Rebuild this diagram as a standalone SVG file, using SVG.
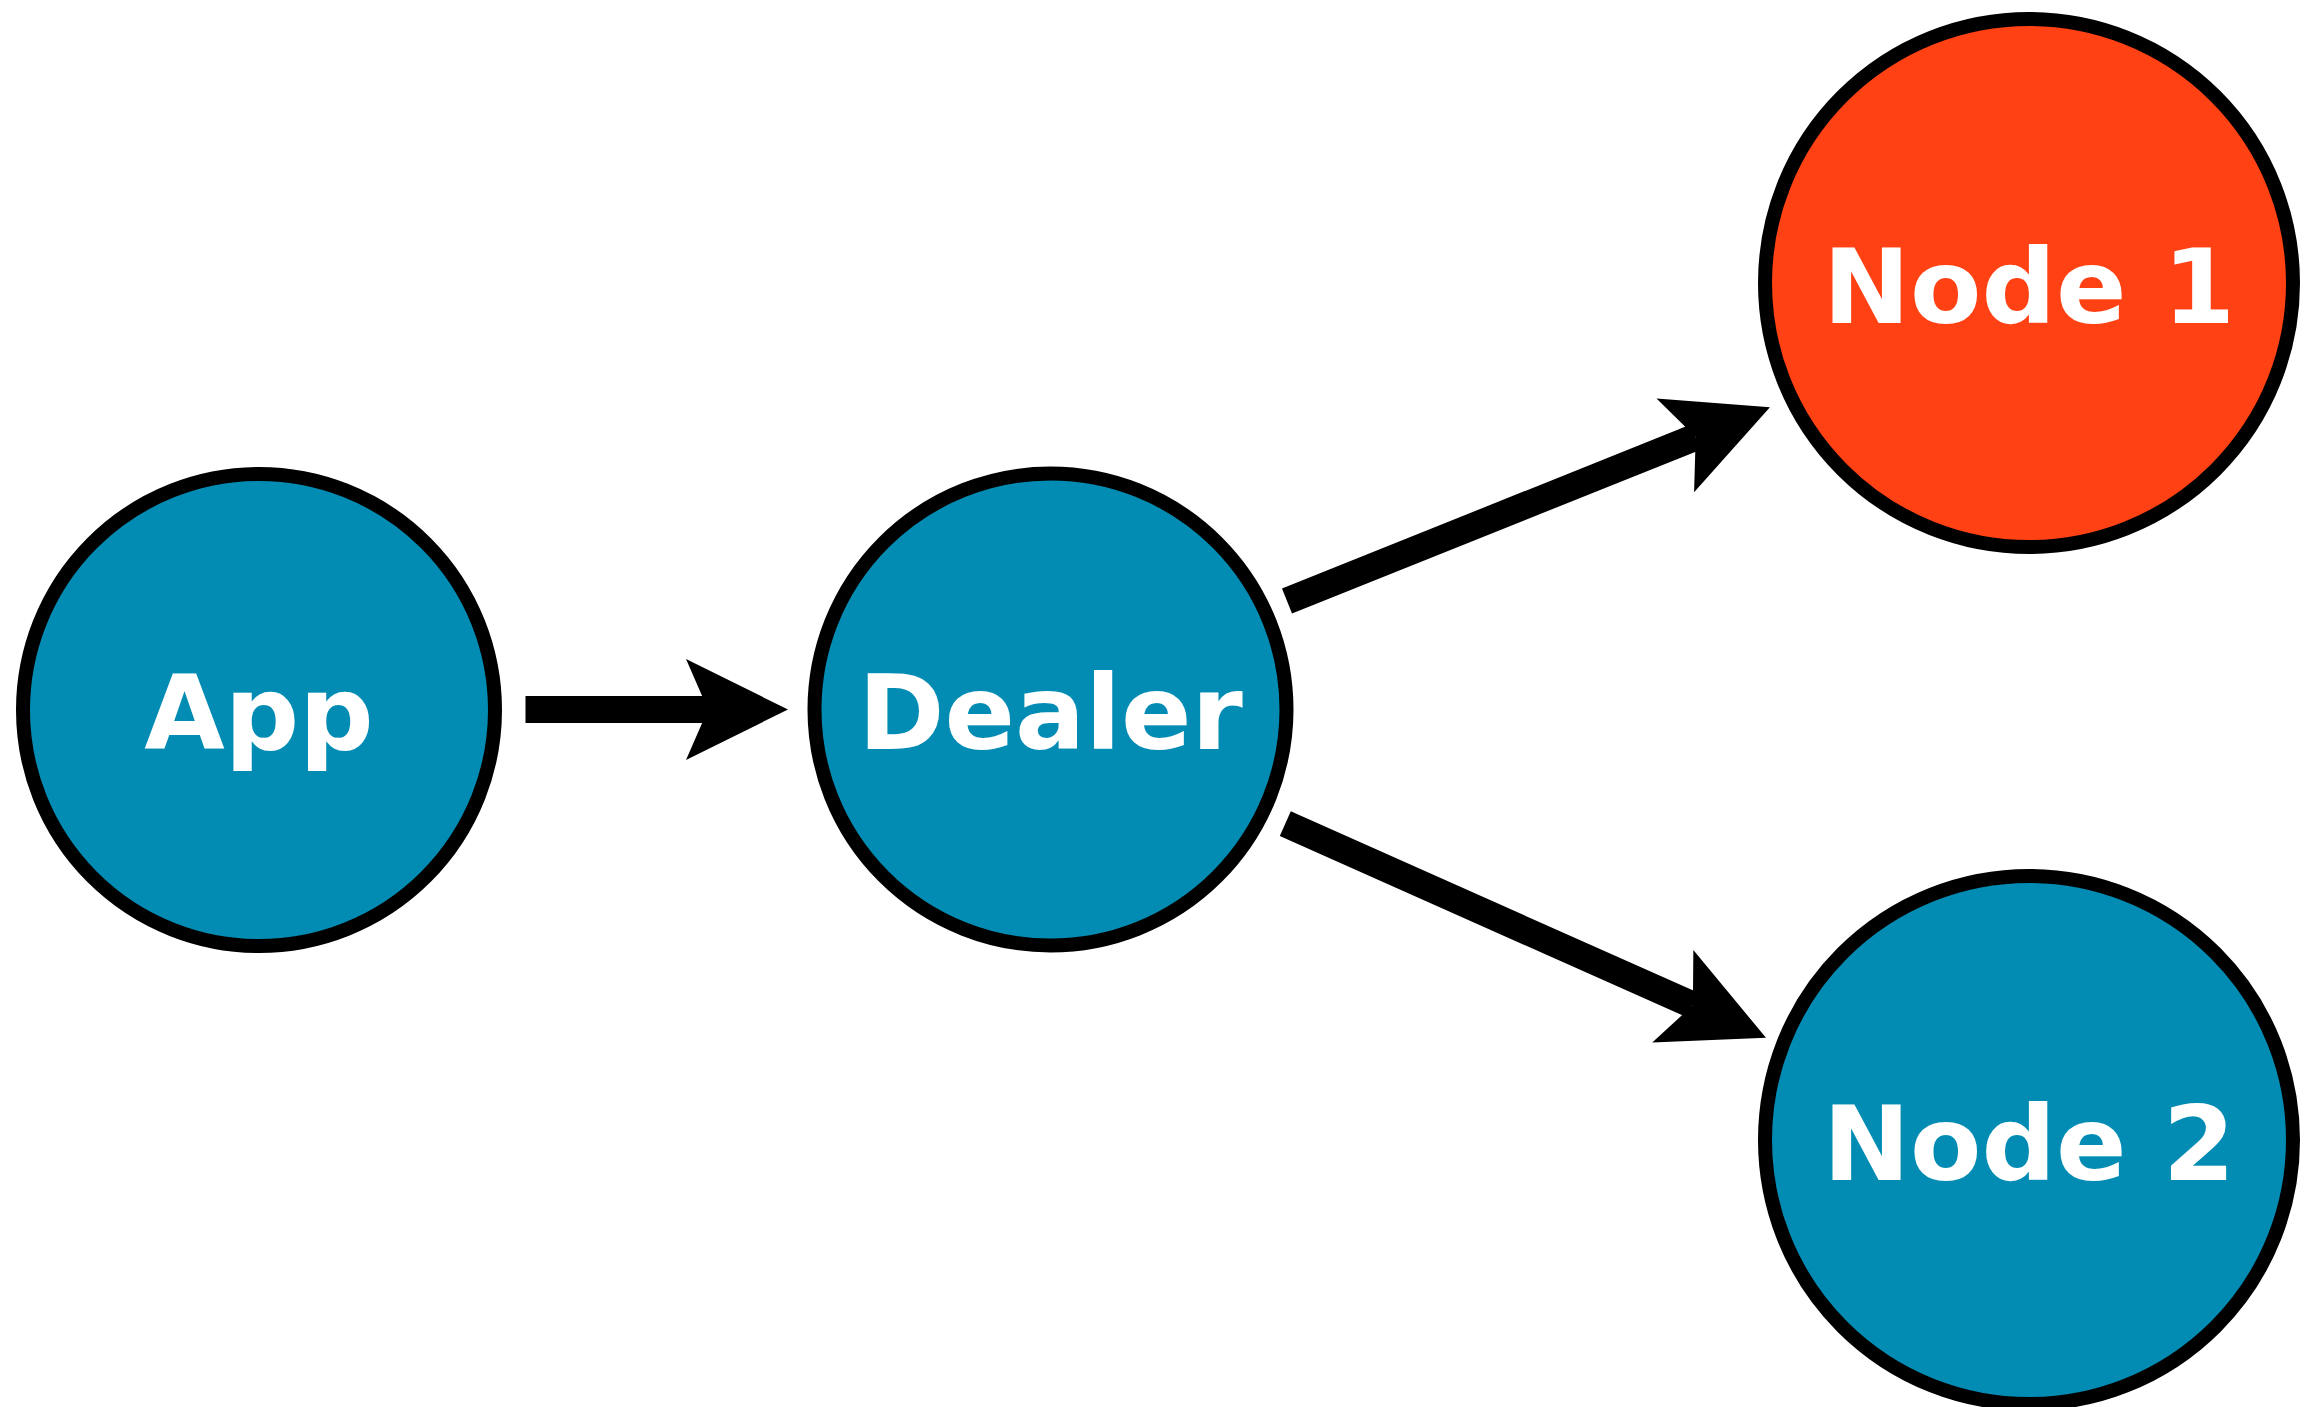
<svg xmlns="http://www.w3.org/2000/svg" width="2304" height="1407" viewBox="0 0 2304 1407">
  <style>
    .node { stroke: #000; stroke-width: 14; }
    .blue { fill: #028cb4; }
    .red { fill: #ff4114; }
    .label { font-family: "DejaVu Sans", "Liberation Sans", sans-serif; font-weight: bold; font-size: 104px; fill: #fff; text-anchor: middle; }
    .edge { stroke: #000; stroke-width: 27; fill: none; stroke-linecap: butt; }
  </style>
  <defs>
    <marker id="arrow" markerUnits="userSpaceOnUse" viewBox="-110 -56 112 112" markerWidth="112" markerHeight="112" refX="-80" refY="0" orient="auto">
      <path d="M0,0 L-102,-50.5 L-80,0 L-102,50.5 Z" fill="#000"/>
    </marker>
  </defs>
  <rect width="2304" height="1407" fill="#fff"/>
  <g id="connectors">
    <line class="edge" x1="525.5" y1="709.5" x2="708" y2="709.5" marker-end="url(#arrow)"/>
    <line class="edge" x1="1287" y1="601" x2="1695.7" y2="437.1" marker-end="url(#arrow)"/>
    <line class="edge" x1="1285.3" y1="823.7" x2="1692.9" y2="1005.2" marker-end="url(#arrow)"/>
  </g>
  <g id="node-app">
    <circle class="node blue" cx="259" cy="710" r="236"/>
    <text class="label" x="259" y="749">App</text>
  </g>
  <g id="node-dealer">
    <circle class="node blue" cx="1050.5" cy="709.5" r="236"/>
    <text class="label" x="1050.5" y="749">Dealer</text>
  </g>
  <g id="node-1">
    <circle class="node red" cx="2029" cy="283" r="264"/>
    <text class="label" x="2029" y="323">Node 1</text>
  </g>
  <g id="node-2">
    <circle class="node blue" cx="2029" cy="1140" r="264"/>
    <text class="label" x="2029" y="1180">Node 2</text>
  </g>
</svg>
